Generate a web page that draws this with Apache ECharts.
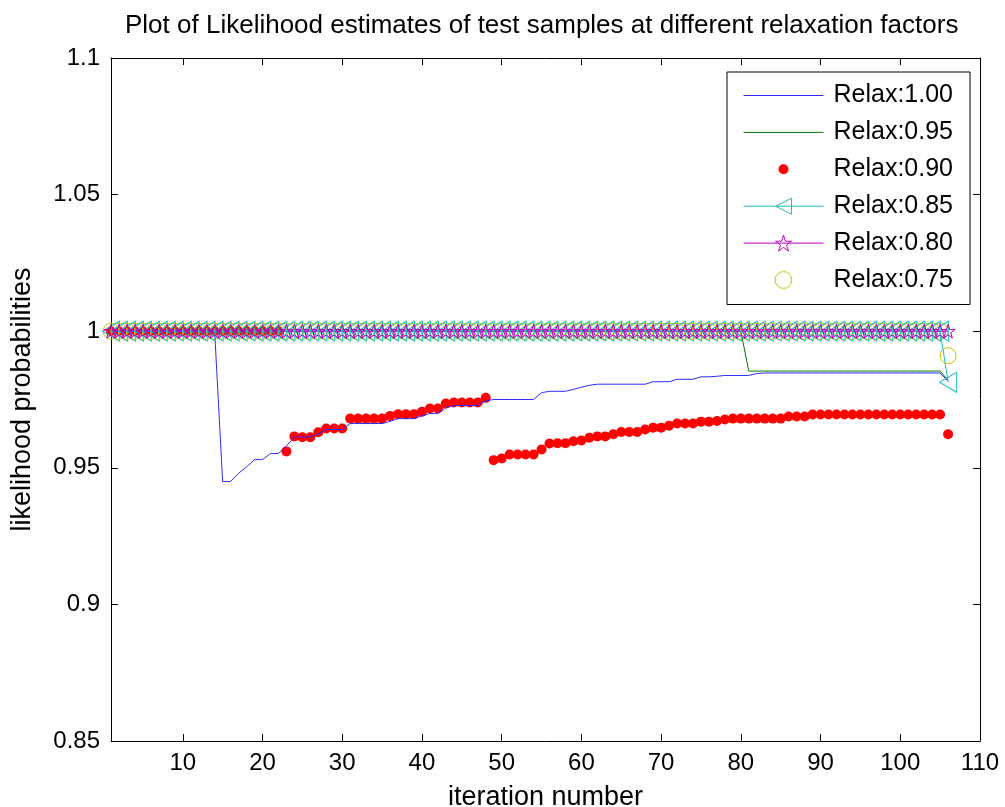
<!DOCTYPE html>
<html><head><meta charset="utf-8">
<script src="https://cdn.jsdelivr.net/npm/echarts@6/dist/echarts.min.js"></script>
<style>html,body{margin:0;padding:0;background:#fff}#c{width:1005px;height:807px}</style>
</head><body><div id="c"></div>
<script>
const iterations = [
 1,2,3,4,5,6,7,8,9,10, 11,12,13,14,15,16,17,18,19,20,
 21,22,23,24,25,26,27,28,29,30, 31,32,33,34,35,36,37,38,39,40,
 41,42,43,44,45,46,47,48,49,50, 51,52,53,54,55,56,57,58,59,60,
 61,62,63,64,65,66,67,68,69,70, 71,72,73,74,75,76,77,78,79,80,
 81,82,83,84,85,86,87,88,89,90, 91,92,93,94,95,96,97,98,99,100,
 101,102,103,104,105,106];
const relax100 = [
 1,1,1,1,1,1,1,1,1,1,
 1,1,1,1,0.945,0.945,0.948,0.9503,0.953,0.953,
 0.9552,0.9552,0.958,0.9613,0.9613,0.9613,0.9625,0.964,0.964,0.964,
 0.9662,0.9662,0.9662,0.9662,0.9662,0.967,0.968,0.968,0.968,0.969,
 0.9699,0.9699,0.972,0.9728,0.9728,0.9728,0.9728,0.9745,0.975,0.975,
 0.975,0.975,0.975,0.975,0.9775,0.978,0.978,0.978,0.9787,0.9795,
 0.9802,0.9806,0.9806,0.9806,0.9806,0.9806,0.9806,0.9806,0.9815,0.9815,
 0.9815,0.9824,0.9824,0.9824,0.9833,0.9833,0.9835,0.9838,0.9838,0.9838,
 0.9838,0.9845,0.9847,0.9847,0.9847,0.9847,0.9847,0.9847,0.9847,0.9847,
 0.9847,0.9847,0.9847,0.9847,0.9847,0.9847,0.9847,0.9847,0.9847,0.9847,
 0.9847,0.9847,0.9847,0.9847,0.9847,0.9817];
const relax095 = [
 1,1,1,1,1,1,1,1,1,1, 1,1,1,1,1,1,1,1,1,1,
 1,1,1,1,1,1,1,1,1,1, 1,1,1,1,1,1,1,1,1,1,
 1,1,1,1,1,1,1,1,1,1, 1,1,1,1,1,1,1,1,1,1,
 1,1,1,1,1,1,1,1,1,1, 1,1,1,1,1,1,1,1,1,1,
 0.9854,0.9854,0.9854,0.9854,0.9854,0.9854,0.9854,0.9854,0.9854,0.9854,
 0.9854,0.9854,0.9854,0.9854,0.9854,0.9854,0.9854,0.9854,0.9854,0.9854,
 0.9854,0.9854,0.9854,0.9854,0.9854,0.982];
const relax090 = [
 1,1,1,1,1,1,1,1,1,1,
 1,1,1,1,1,1,1,1,1,1,
 1,1,0.956,0.9615,0.9612,0.9612,0.963,0.9644,0.9644,0.9644,
 0.968,0.968,0.968,0.968,0.968,0.969,0.9696,0.9696,0.9696,0.9705,
 0.9717,0.9717,0.9735,0.9739,0.9739,0.9739,0.9739,0.9756,0.9528,0.9534,
 0.9549,0.9549,0.9549,0.9549,0.9567,0.9589,0.959,0.959,0.9597,0.960,
 0.961,0.9615,0.9615,0.9623,0.9631,0.9631,0.9631,0.964,0.9647,0.9647,
 0.9654,0.9662,0.9662,0.9662,0.9669,0.9669,0.9671,0.9677,0.968,0.968,
 0.968,0.968,0.968,0.968,0.968,0.9688,0.9688,0.9688,0.9695,0.9695,
 0.9695,0.9695,0.9695,0.9695,0.9695,0.9695,0.9695,0.9695,0.9695,0.9695,
 0.9695,0.9695,0.9695,0.9695,0.9695,0.9623];
const relax085 = [
 1,1,1,1,1,1,1,1,1,1, 1,1,1,1,1,1,1,1,1,1,
 1,1,1,1,1,1,1,1,1,1, 1,1,1,1,1,1,1,1,1,1,
 1,1,1,1,1,1,1,1,1,1, 1,1,1,1,1,1,1,1,1,1,
 1,1,1,1,1,1,1,1,1,1, 1,1,1,1,1,1,1,1,1,1,
 1,1,1,1,1,1,1,1,1,1, 1,1,1,1,1,1,1,1,1,1,
 1,1,1,1,1,0.9813];
const relax080 = [
 1,1,1,1,1,1,1,1,1,1, 1,1,1,1,1,1,1,1,1,1,
 1,1,1,1,1,1,1,1,1,1, 1,1,1,1,1,1,1,1,1,1,
 1,1,1,1,1,1,1,1,1,1, 1,1,1,1,1,1,1,1,1,1,
 1,1,1,1,1,1,1,1,1,1, 1,1,1,1,1,1,1,1,1,1,
 1,1,1,1,1,1,1,1,1,1, 1,1,1,1,1,1,1,1,1,1,
 1,1,1,1,1,1];
const relax075 = [
 1,1,1,1,1,1,1,1,1,1, 1,1,1,1,1,1,1,1,1,1,
 1,1,1,1,1,1,1,1,1,1, 1,1,1,1,1,1,1,1,1,1,
 1,1,1,1,1,1,1,1,1,1, 1,1,1,1,1,1,1,1,1,1,
 1,1,1,1,1,1,1,1,1,1, 1,1,1,1,1,1,1,1,1,1,
 1,1,1,1,1,1,1,1,1,1, 1,1,1,1,1,1,1,1,1,1,
 1,1,1,1,1,0.991];
const seriesNames = ['Relax:1.00','Relax:0.95','Relax:0.90','Relax:0.85','Relax:0.80','Relax:0.75'];
const xTicks = [10,20,30,40,50,60,70,80,90,100,110];
const yTicks = [0.85,0.9,0.95,1,1.05,1.1];
const titleText = 'Plot of Likelihood estimates of test samples at different relaxation factors';
const xName = 'iteration number';
const yName = 'likelihood probabilities';

const FONT = '"Liberation Sans", Arial, Helvetica, sans-serif';
const BLUE = '#2b2bff', GREEN = '#007a00', RED = '#ff0000', CYAN = '#1fbfbf', MAG = '#c000c0', YEL = '#c8c800';
const CLEAR = 'rgba(0,0,0,0)';
const TRI = 'path://M0,10L17,0L17,20Z';
const STAR = 'path://M50,0L61.23,34.55L97.55,34.55L68.17,55.9L79.39,90.45L50,69.1L20.61,90.45L31.83,55.9L2.45,34.55L38.77,34.55Z';
const pair = arr => iterations.map((x, i) => [x, arr[i]]);

const axisCommon = {
  axisLine: {onZero: false, lineStyle: {color: '#000', width: 1}},
  splitLine: {show: false}
};
const chart = echarts.init(document.getElementById('c'), null, {renderer: 'canvas'});
chart.setOption({
  animation: false,
  backgroundColor: '#fff',
  title: {
    text: titleText, left: 125, top: 13, padding: 0,
    textStyle: {fontFamily: FONT, fontSize: 26, fontWeight: 'normal', color: '#000'}
  },
  grid: {left: 111, right: 25, top: 58, bottom: 66, containLabel: false, outerBoundsMode: 'none'},
  legend: {
    orient: 'vertical', left: 727, top: 72,
    padding: [11, 17, 12, 16],
    itemWidth: 80, itemHeight: 20, itemGap: 11.9,
    borderColor: '#000', borderWidth: 1, backgroundColor: '#fff',
    textStyle: {fontFamily: FONT, fontSize: 25, color: '#000', padding: [0, 0, 0, 5]},
    data: [
      {name: seriesNames[0], icon: 'path://M0,10L80,10M0,0M80,20', itemStyle: {color: CLEAR, borderColor: BLUE, borderWidth: 1}},
      {name: seriesNames[1], icon: 'path://M0,10L80,10M0,0M80,20', itemStyle: {color: CLEAR, borderColor: GREEN, borderWidth: 1}},
      {name: seriesNames[2], icon: 'path://M0,0M100,100M25,50A25,25,0,1,1,75,50A25,25,0,1,1,25,50Z', itemStyle: {color: RED, borderWidth: 0}},
      {name: seriesNames[3], itemStyle: {color: CLEAR, borderColor: CYAN, borderWidth: 1}, lineStyle: {color: CYAN, width: 1}},
      {name: seriesNames[4], itemStyle: {color: CLEAR, borderColor: MAG, borderWidth: 1}, lineStyle: {color: MAG, width: 1}},
      {name: seriesNames[5], icon: 'path://M0,0M100,100M8,50A42,42,0,1,1,92,50A42,42,0,1,1,8,50Z', itemStyle: {color: CLEAR, borderColor: YEL, borderWidth: 1}}
    ]
  },
  xAxis: [
    Object.assign({}, axisCommon, {
      type: 'value', min: 1, max: 110, position: 'bottom',
      axisTick: {inside: true, length: 7, customValues: xTicks, lineStyle: {color: '#000'}},
      axisLabel: {customValues: xTicks, margin: 10, fontSize: 24, color: '#000', fontFamily: FONT},
      name: xName, nameLocation: 'middle', nameGap: 43,
      nameTextStyle: {fontSize: 27, color: '#000', fontFamily: FONT}
    }),
    Object.assign({}, axisCommon, {
      type: 'value', min: 1, max: 110, position: 'top',
      axisTick: {inside: true, length: 7, customValues: xTicks, lineStyle: {color: '#000'}},
      axisLabel: {show: false}
    })
  ],
  yAxis: [
    Object.assign({}, axisCommon, {
      type: 'value', min: 0.85, max: 1.1, position: 'left',
      axisTick: {inside: true, length: 7, customValues: yTicks, lineStyle: {color: '#000'}},
      axisLabel: {customValues: yTicks, margin: 11, fontSize: 24, color: '#000', fontFamily: FONT},
      name: yName, nameLocation: 'middle', nameGap: 75,
      nameTextStyle: {fontSize: 27, color: '#000', fontFamily: FONT}
    }),
    Object.assign({}, axisCommon, {
      type: 'value', min: 0.85, max: 1.1, position: 'right',
      axisTick: {inside: true, length: 7, customValues: yTicks, lineStyle: {color: '#000'}},
      axisLabel: {show: false}
    })
  ],
  series: [
    {name: seriesNames[0], type: 'line', data: pair(relax100), symbol: 'none', clip: false, silent: true,
     lineStyle: {color: BLUE, width: 1}, itemStyle: {color: BLUE}},
    {name: seriesNames[1], type: 'line', data: pair(relax095), symbol: 'none', clip: false, silent: true,
     lineStyle: {color: GREEN, width: 1}, itemStyle: {color: GREEN}},
    {name: seriesNames[2], type: 'scatter', data: pair(relax090), symbol: 'circle', symbolSize: 10, clip: false, silent: true,
     itemStyle: {color: RED, opacity: 1}},
    {name: seriesNames[3], type: 'line', data: pair(relax085), symbol: TRI, symbolSize: [17, 20], showSymbol: true, showAllSymbol: true,
     clip: false, silent: true, lineStyle: {color: CYAN, width: 1},
     itemStyle: {color: CLEAR, borderColor: CYAN, borderWidth: 1}},
    {name: seriesNames[4], type: 'line', data: pair(relax080), symbol: STAR, symbolSize: 14, showSymbol: true, showAllSymbol: true,
     clip: false, silent: true, lineStyle: {color: MAG, width: 1},
     itemStyle: {color: CLEAR, borderColor: MAG, borderWidth: 1}},
    {name: seriesNames[5], type: 'scatter', data: pair(relax075), symbol: 'circle', symbolSize: 16, clip: false, silent: true,
     itemStyle: {color: CLEAR, borderColor: YEL, borderWidth: 1, opacity: 1}}
  ]
});
</script>
</body></html>
